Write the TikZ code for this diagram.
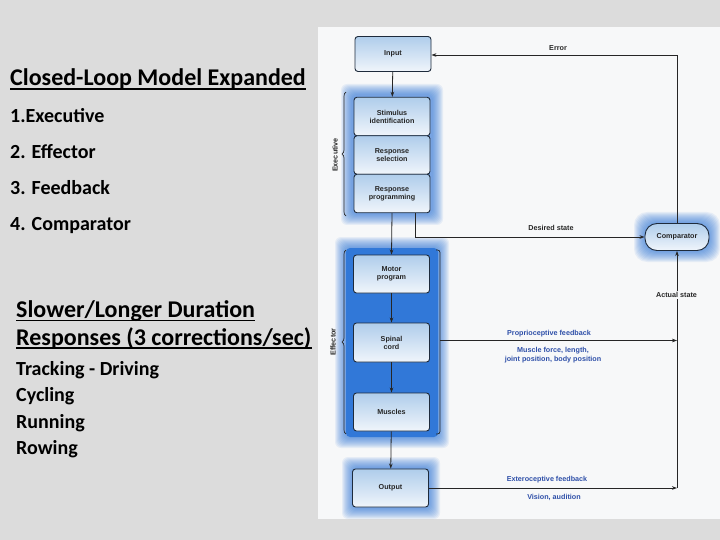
\documentclass[tikz,border=0pt]{standalone}
\usepackage{fontspec}
\setmainfont{Carlito}
\newfontfamily\diagfont{Liberation Sans}
\usetikzlibrary{arrows.meta,decorations.pathreplacing}
\definecolor{bgGrey}{HTML}{DCDCDC}
\definecolor{pageW}{HTML}{F7F8F9}
\definecolor{glowBlue}{HTML}{2F78D8}
\definecolor{effBlue}{HTML}{3F82D8}
\definecolor{boxTop}{HTML}{AFCDEB}
\definecolor{boxBot}{HTML}{F0F5FB}
\definecolor{boxLine}{HTML}{1E2B3C}
\definecolor{fbBlue}{HTML}{2E4FA8}
\definecolor{lineDark}{HTML}{262626}
\tikzset{
  blk/.style={draw=boxLine, line width=0.9pt, rounded corners=3pt, top color=boxTop, bottom color=boxBot,
    minimum width=76pt, inner sep=1pt, font=\diagfont\bfseries\fontsize{7.2}{8}\selectfont, text=black!85, align=center},
  pill/.style={blk, rounded corners=12pt, minimum width=64pt, minimum height=27pt},
  conn/.style={draw=lineDark, line width=0.8pt},
  arr/.style={conn, -{Stealth[length=5pt,width=3.6pt]}},
  lbl/.style={font=\diagfont\bfseries\fontsize{7.2}{8}\selectfont, text=black!85, inner sep=0pt},
  fbl/.style={font=\diagfont\bfseries\fontsize{7.2}{8.6}\selectfont, text=fbBlue, inner sep=0pt, align=center},
  lefttxt/.style={anchor=base west, inner sep=0pt, font=\bfseries},
  brk/.style={draw=lineDark, line width=0.7pt},
}
\newcommand{\glowrect}[5]{%
  \foreach \i in {1,...,11} {\fill[glowBlue, opacity=0.085, rounded corners=#5] (#1-\i,#2-\i) rectangle (#3+\i,#4+\i);}}
\begin{document}
\begin{tikzpicture}[x=1pt,y=-1pt]
\useasboundingbox (0,0) rectangle (720,540);
\fill[bgGrey] (0,0) rectangle (720,540);
\fill[pageW] (318,27) rectangle (720,519);

% ---------- left text ----------
\node[lefttxt, font=\bfseries\fontsize{24}{26}\selectfont] (title) at (10,86) {Closed-Loop Model Expanded};
\draw[line width=1.6pt] ([yshift=-3pt]title.base west) -- ([yshift=-3pt]title.base east);
\node[lefttxt, font=\bfseries\fontsize{20}{22}\selectfont] (l1) at (10,123) {1.Executive};
\node[lefttxt, font=\bfseries\fontsize{20}{22}\selectfont] (l2) at (10,158.5) {2. Effector};
\node[lefttxt, font=\bfseries\fontsize{20}{22}\selectfont] (l3) at (10,194.5) {3. Feedback};
\node[lefttxt, font=\bfseries\fontsize{20}{22}\selectfont] (l4) at (10,230.5) {4. Comparator};
\node[lefttxt, font=\bfseries\fontsize{24}{26}\selectfont] (s1) at (16,317.5) {Slower/Longer Duration};
\draw[line width=1.6pt] ([yshift=-3pt]s1.base west) -- ([yshift=-3pt]s1.base east);
\node[lefttxt, font=\bfseries\fontsize{24}{26}\selectfont] (s2) at (16,345) {Responses (3 corrections/sec)};
\draw[line width=1.6pt] ([yshift=-3pt]s2.base west) -- ([yshift=-3pt]s2.base east);
\node[lefttxt, font=\bfseries\fontsize{20}{22}\selectfont] (t1) at (16,375) {Tracking - Driving};
\node[lefttxt, font=\bfseries\fontsize{20}{22}\selectfont] (t2) at (16,401.5) {Cycling};
\node[lefttxt, font=\bfseries\fontsize{20}{22}\selectfont] (t3) at (16,428) {Running};
\node[lefttxt, font=\bfseries\fontsize{20}{22}\selectfont] (t4) at (16,454.5) {Rowing};

% ---------- glows ----------
\glowrect{352}{95}{432}{214}{6pt}
\fill[effBlue, rounded corners=4pt] (346,248) rectangle (438,437);
\glowrect{346}{248}{438}{437}{6pt}
\glowrect{353}{468}{429}{508}{6pt}
\glowrect{645}{223}{709}{251}{13pt}

% ---------- boxes ----------
\node[blk, minimum height=35pt] (input) at (393,54) {Input};
\node[blk, minimum height=38.5pt] (stim) at (392,116.5) {Stimulus\\identification};
\node[blk, minimum height=38.5pt] (rsel) at (392,155) {Response\\selection};
\node[blk, minimum height=38.5pt] (rprog) at (392,193.5) {Response\\programming};
\node[blk, minimum height=38pt] (motor) at (391.5,274) {Motor\\program};
\node[blk, minimum height=39pt] (spinal) at (391.5,342.5) {Spinal\\cord};
\node[blk, minimum height=38pt] (muscles) at (391.5,412) {Muscles};
\node[blk, minimum height=38pt] (output) at (390.5,488) {Output};
\node[pill] (comp) at (677,237) {Comparator};

% ---------- brackets ----------
\draw[brk, decorate, decoration={brace, amplitude=4pt}] (346,216) -- (346,92);
\node[lbl, rotate=90] (exlbl) at (335,155) {Executive};
\draw[brk, decorate, decoration={brace, amplitude=4pt}] (346,434) -- (346,250);
\node[lbl, rotate=90] (eflbl) at (333,342) {Effector};
\draw[brk, rounded corners=2.5pt] (436,250) -- (440,250) -- (440,434) -- (436,434);
\coordinate (effR) at (440,340.5);

% ---------- connectors ----------
\draw[arr] (input) -- (stim);
\draw[arr] (rprog.south) -- (motor.north);
\draw[arr] (motor) -- (spinal);
\draw[arr] (spinal) -- (muscles);
\draw[arr] (muscles) -- (output);
\coordinate (errc) at (677,55);
\draw[arr] (comp.north) -- (errc) -- (input.east |- errc);
\node[lbl] (errlbl) at (558,48.5) {Error};
\coordinate (dsc) at (415,237);
\draw[arr] (rprog.south -| dsc) -- (dsc) -- (comp.west);
\node[lbl] (dslbl) at (551,228) {Desired state};
\coordinate (fbc) at (677,488);
\draw[arr] (output.east) -- (fbc);
\draw[arr] (fbc) -- (comp.south);
\coordinate (ppc) at (677,340.5);
\draw[arr] (effR) -- (ppc);
\node[lbl, fill=pageW, inner sep=1.5pt] (aslbl) at (676.5,295) {Actual state};
\node[fbl] (pplbl) at (549,334) {Proprioceptive feedback};
\node[fbl] (mflbl) at (553,355) {Muscle force, length,\\joint position, body position};
\node[fbl] (exlbl2) at (547,480) {Exteroceptive feedback};
\node[fbl] (vilbl) at (554,497.5) {Vision, audition};
\end{tikzpicture}
\end{document}
